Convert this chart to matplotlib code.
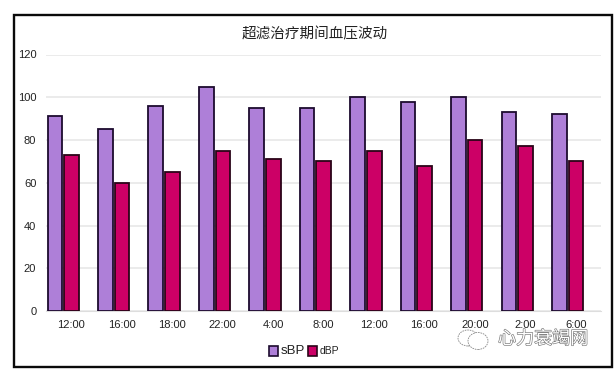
from matplotlib import pyplot as plt
from matplotlib.patches import Rectangle, Ellipse
import matplotlib.patheffects as pe
import numpy as np

times = ['12:00', '16:00', '18:00', '22:00', '4:00', '8:00', '12:00', '16:00', '20:00', '2:00', '6:00']
sbp = [91, 85, 96, 105, 95, 95, 100, 98, 100, 93, 92]
dbp = [73, 60, 65, 75, 71, 70, 75, 68, 80, 77, 70]
title = '超滤治疗期间血压波动'
mark = '心力衰竭网'

W, H = 614, 370
plt.rcParams['font.family'] = ['Liberation Sans', 'Noto Sans CJK SC', 'DejaVu Sans']

fig = plt.figure(figsize=(W / 100, H / 100), dpi=100)
# black frame round the whole chart
fig.add_artist(Rectangle((13.5 / W, 1 - 366.5 / H), 598 / W, 351.5 / H, transform=fig.transFigure,
                         fill=False, ec='#0a0a0a', lw=1.7))

ax = fig.add_axes([46 / W, 1 - 311 / H, 555 / W, 256.5 / H])
x = np.arange(len(times))
ax.bar(x - 0.47, sbp, width=0.29, align='edge', color='#AE7FD8', ec='#1c0b2e', lw=1.3, zorder=3)
ax.bar(x - 0.14, dbp, width=0.29, align='edge', color='#CC0066', ec='#2a0418', lw=1.3, zorder=3)

ax.set_xlim(-0.5, len(times) - 0.5)
ax.set_ylim(0, 120)
ax.set_yticks(range(0, 121, 20))
ax.set_xticks(x, times)
ax.tick_params(length=0, labelsize=8, colors='#222222')
ax.tick_params(axis='x', pad=6.5)
ax.tick_params(axis='y', pad=7)
ax.grid(axis='y', color='#e8e8e8', lw=1.2, zorder=0)
for name in ['top', 'right', 'left']:
    ax.spines[name].set_visible(False)
ax.spines['bottom'].set_color('#dddddd')

fig.text(315 / W, 1 - 34 / H, title, fontsize=10.5, color='#222222', ha='center', va='center',
         family=['Noto Sans CJK SC', 'DejaVu Sans'])

# legend, sBP is larger than dBP in the original
fig.add_artist(Rectangle((269 / W, 1 - 356 / H), 9 / W, 10 / H, transform=fig.transFigure,
                         fc='#AE7FD8', ec='#1c0b2e', lw=1.2))
fig.text(281 / W, 1 - 351 / H, 'sBP', fontsize=9.5, color='#222222', va='center')
fig.add_artist(Rectangle((308 / W, 1 - 356 / H), 9 / W, 10 / H, transform=fig.transFigure,
                         fc='#CC0066', ec='#2a0418', lw=1.2))
fig.text(320 / W, 1 - 351 / H, 'dBP', fontsize=7.5, color='#222222', va='center')

# watermark
for cx, cy, rx, ry in [(468, 338, 20, 16), (478, 341, 20, 17)]:
    fig.add_artist(Ellipse((cx / W, 1 - cy / H), rx / W, ry / H, transform=fig.transFigure,
                           fc='white', ec='#888888', lw=0.6, ls=(0, (2, 1)), zorder=5))
fig.text(543 / W, 1 - 339 / H, mark, fontsize=13, color='white', ha='center', va='center', zorder=6,
         family=['Noto Sans CJK SC', 'DejaVu Sans'],
         path_effects=[pe.withStroke(linewidth=0.9, foreground='#777777')])

fig.savefig('out.png', dpi=100, facecolor='white')
